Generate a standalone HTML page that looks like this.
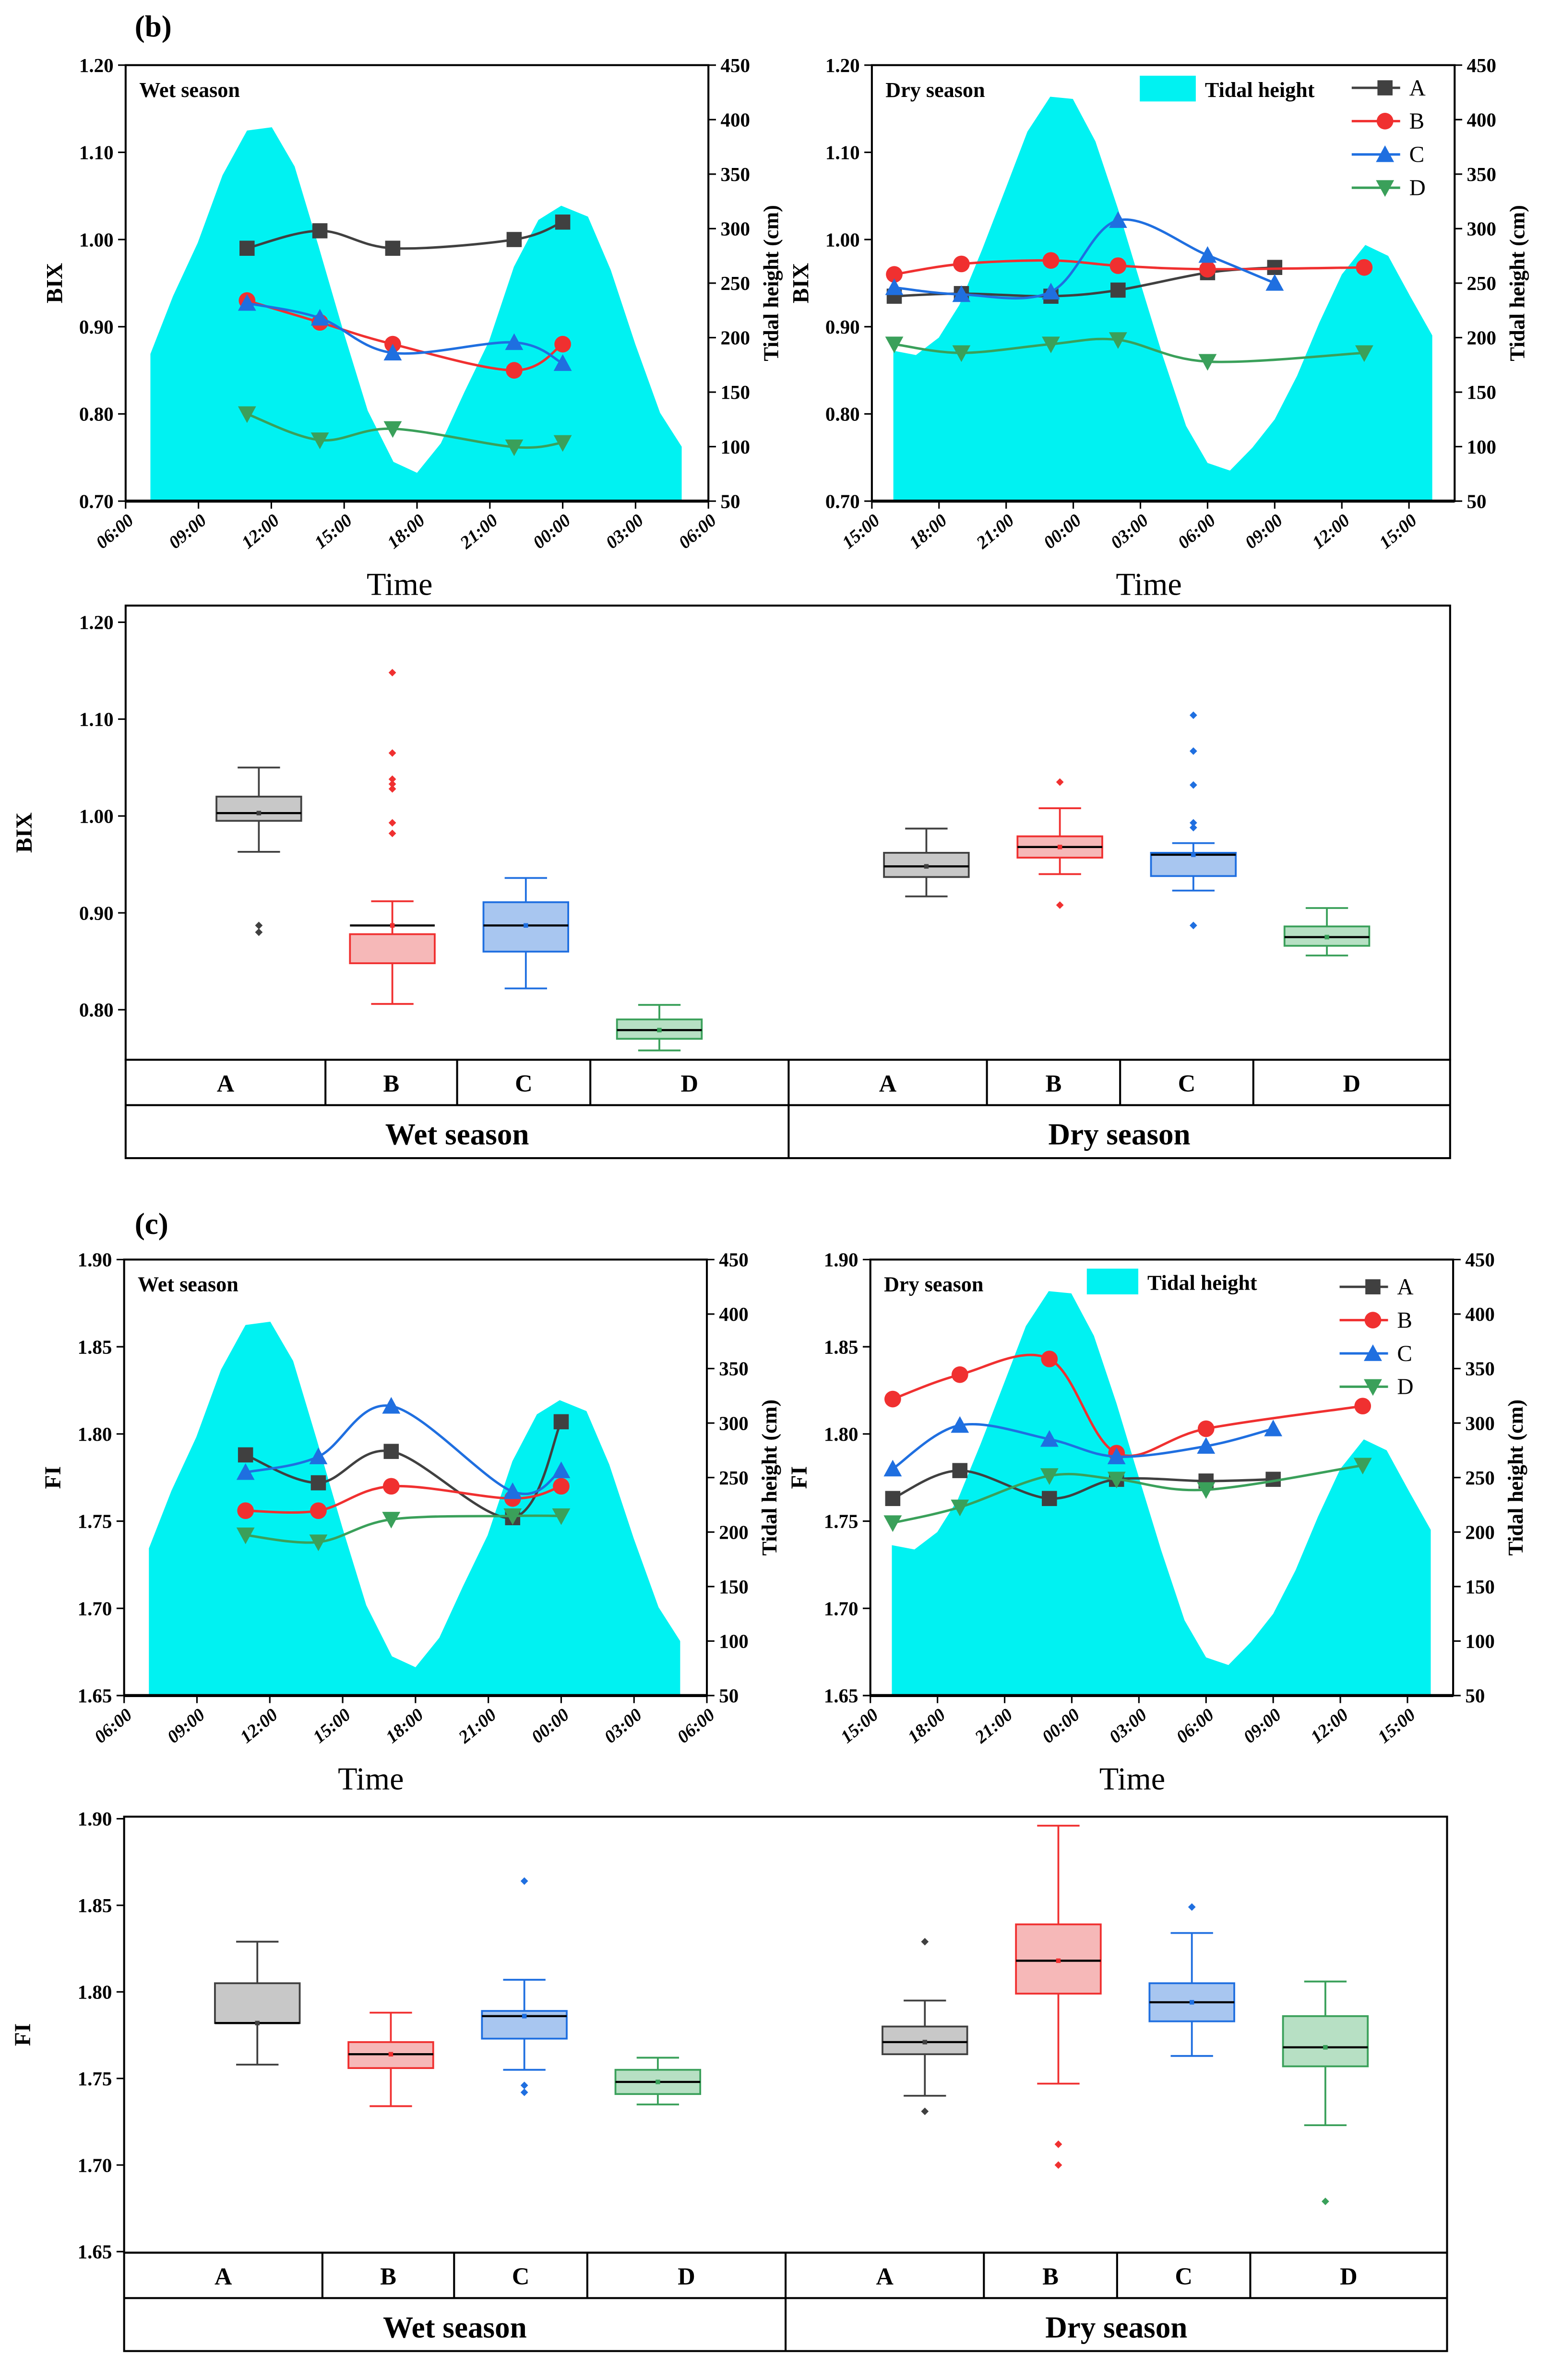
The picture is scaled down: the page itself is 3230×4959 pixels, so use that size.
<!DOCTYPE html>
<html><head><meta charset="utf-8"><style>
html,body{margin:0;padding:0;background:#fff}
svg{display:block}
text{font-family:"Liberation Serif",serif}
</style></head><body>
<svg id="s" width="3230" height="4959" viewBox="0 0 1024 1572.1" xmlns="http://www.w3.org/2000/svg"></svg>
<script>
// ---------- DATA ----------
const tideWetHours=[1.02,1.95,2.97,3.99,5.0,6.02,6.96,7.93,8.99,9.97,11.03,12.0,12.98,13.95,14.97,15.99,17.0,17.94,19.04,19.98,20.99,22.01,22.9];
const tideWetCm=[185,238,287,349,390,393,357,285,204,133,86,76,103,150,197,265,308,321,311,262,194,131,100];
const tideDryHours=[0.96,1.97,2.99,3.91,4.93,6.02,6.95,7.97,8.98,9.99,11.0,12.0,13.0,14.04,15.0,16.0,17.0,18.0,19.0,20.0,21.0,22.05,23.07,24.08,25.04];
const tideDryCm=[188,184,200,230,281,339,389,421,419,380,318,250,183,119,85,78,99,125,165,214,258,285,275,237,202];
const seriesNames=["A","B","C","D"];
const wetHours=[5,8,11,16,18];
const bixWet=[[0.99,1.01,0.99,1.00,1.02],[0.93,0.905,0.88,0.85,0.88],[0.927,0.91,0.87,0.882,0.858],[0.80,0.77,0.783,0.762,0.767]];
const fiWet=[[1.788,1.772,1.790,1.752,1.807],[1.756,1.756,1.770,1.763,1.770],[1.778,1.787,1.816,1.767,1.779],[1.742,1.738,1.751,1.753,1.753]];
const dryHoursA=[1,4,8,11,15,18];
const dryHoursB=[1,4,8,11,15,22];
const bixDry=[[0.935,0.938,0.935,0.942,0.962,0.968],[0.96,0.972,0.976,0.97,0.966,0.968],[0.945,0.937,0.94,1.022,0.982,0.95],[0.88,0.87,0.88,0.885,0.86,0.87]];
const fiDry=[[1.763,1.779,1.763,1.774,1.773,1.774],[1.82,1.834,1.843,1.789,1.803,1.816],[1.780,1.805,1.797,1.787,1.793,1.803],[1.749,1.758,1.776,1.774,1.768,1.782]];
const wetTickLabels=["06:00","09:00","12:00","15:00","18:00","21:00","00:00","03:00","06:00"];
const dryTickLabels=["15:00","18:00","21:00","00:00","03:00","06:00","09:00","12:00","15:00"];
const bixTicks=[0.70,0.80,0.90,1.00,1.10,1.20];
const fiTicks=[1.65,1.70,1.75,1.80,1.85,1.90];
const tideTicks=[50,100,150,200,250,300,350,400,450];
const boxCats=["A","B","C","D","A","B","C","D"];
// box stats: [whiskLo, q1, median, q3, whiskHi]
const bixBoxes=[[0.963,0.995,1.003,1.02,1.05],[0.806,0.848,0.887,0.878,0.912],[0.822,0.86,0.887,0.911,0.936],[0.758,0.77,0.779,0.79,0.805],
 [0.917,0.937,0.948,0.962,0.987],[0.94,0.957,0.968,0.979,1.008],[0.923,0.938,0.96,0.962,0.972],[0.856,0.866,0.875,0.886,0.905]];
const bixOutliers=[[0.887,0.88],[1.148,1.065,1.038,1.033,1.028,0.993,0.982],[],[],[],[1.035,0.908],[1.104,1.067,1.032,0.993,0.988,0.887],[]];
const fiBoxes=[[1.758,1.782,1.782,1.805,1.829],[1.734,1.756,1.764,1.771,1.788],[1.755,1.773,1.786,1.789,1.807],[1.735,1.741,1.748,1.755,1.762],
 [1.740,1.764,1.771,1.780,1.795],[1.747,1.799,1.818,1.839,1.896],[1.763,1.783,1.794,1.805,1.834],[1.723,1.757,1.768,1.786,1.806]];
const fiOutliers=[[],[],[1.864,1.746,1.742],[],[1.829,1.731],[1.712,1.700],[1.849],[1.679]];

// ---------- HELPERS ----------
const S=document.getElementById('s');const NS="http://www.w3.org/2000/svg";
function mk(tag,attrs,parent,txt){const e=document.createElementNS(NS,tag);for(const k in attrs)e.setAttribute(k,attrs[k]);if(txt!==undefined)e.textContent=txt;(parent||S).appendChild(e);return e;}
const colors=["#404040","#f03030","#1f6fe0","#3aa05a"];
const fills=["#c8c8c8","#f6b8b8","#a8c6f0","#b7e0c4"];
function spline(pts){let d="M"+pts[0][0]+","+pts[0][1];for(let i=0;i<pts.length-1;i++){const p0=pts[i-1]||pts[i],p1=pts[i],p2=pts[i+1],p3=pts[i+2]||p2;
 const c1=[p1[0]+(p2[0]-p0[0])/6,p1[1]+(p2[1]-p0[1])/6],c2=[p2[0]-(p3[0]-p1[0])/6,p2[1]-(p3[1]-p1[1])/6];
 d+=" C"+c1[0]+","+c1[1]+" "+c2[0]+","+c2[1]+" "+p2[0]+","+p2[1];}return d;}
function marker(g,k,x,y,c){const r=5;let e;
 if(k==0)e=mk('rect',{x:x-r,y:y-r,width:2*r,height:2*r,fill:c},g);
 else if(k==1)e=mk('circle',{cx:x,cy:y,r:r+0.5,fill:c},g);
 else if(k==2)e=mk('polygon',{points:`${x},${y-r-1} ${x-r-1},${y+r} ${x+r+1},${y+r}`,fill:c},g);
 else e=mk('polygon',{points:`${x},${y+r+1} ${x-r-1},${y-r} ${x+r+1},${y-r}`,fill:c},g);
 return e;}

function timePanel(o){
 const g=mk('g',{},S);
 const {x0,x1,y0,y1}=o;const w=x1-x0,h=y1-y0;
 const xs=t=>x0+t*w/o.span;
 const ys=v=>y1-(v-o.ticks[0])/(o.ticks[o.ticks.length-1]-o.ticks[0])*h;
 const yt=v=>y1-(v-50)/400*h;
 const cid='c'+o.name;const cp=mk('clipPath',{id:cid},g);mk('rect',{x:x0,y:y0,width:w,height:h},cp);
 let d="M"+xs(o.tH[0])+","+y1;o.tH.forEach((t,i)=>d+=" L"+xs(t)+","+yt(o.tC[i]));d+=" L"+xs(o.tH[o.tH.length-1])+","+y1+"Z";
 const a=mk('path',{d:d,fill:"#00f2f2",'clip-path':`url(#${cid})`},g);
 o.series.forEach((vals,k)=>{const hrs=o.hours[k];const pts=vals.map((v,i)=>[xs(hrs[i]),ys(v)]);
  const p=mk('path',{d:spline(pts),fill:"none",stroke:colors[k],'stroke-width':1.6,'clip-path':`url(#${cid})`},g);
  
  pts.forEach(q=>marker(g,k,q[0],q[1],colors[k]));});
 mk('rect',{x:x0,y:y0,width:w,height:h,fill:"none",stroke:"#000",'stroke-width':1.3},g);
 mk('line',{x1:x0,x2:x1,y1:y1,y2:y1,stroke:"#000",'stroke-width':2},g);
 o.ticks.forEach(v=>{const y=ys(v);mk('line',{x1:x0-5,x2:x0,y1:y,y2:y,stroke:"#000"},g);
  const t=mk('text',{x:x0-8,y:y+4.5,'text-anchor':'end','font-size':13,'font-weight':'bold'},g,v.toFixed(2));});
 tideTicks.forEach(v=>{const y=yt(v);mk('line',{x1:x1,x2:x1+5,y1:y,y2:y,stroke:"#000"},g);
  const t=mk('text',{x:x1+8,y:y+4.5,'font-size':13,'font-weight':'bold'},g,String(v));});
 o.xl.forEach((l,i)=>{const x=xs(i*3);mk('line',{x1:x,x2:x,y1:y1,y2:y1+5,stroke:"#000"},g);
  const t=mk('text',{x:x+6,y:y1+14,'text-anchor':'end','font-size':12,'font-weight':'bold','font-style':'italic',transform:`rotate(-40 ${x+6} ${y1+14})`},g,l);});
 let t=mk('text',{x:o.titleX,y:y1+62,'text-anchor':'middle','font-size':21},g,'Time');
 t=mk('text',{x:0,y:0,'text-anchor':'middle','font-size':15,'font-weight':'bold',transform:`translate(${x0-42},${y0+h/2}) rotate(-90)`},g,o.yTitle);
 t=mk('text',{x:0,y:0,'text-anchor':'middle','font-size':14,'font-weight':'bold',transform:`translate(${x1+46},${y0+h/2}) rotate(-90)`},g,'Tidal height (cm)');
 t=mk('text',{x:x0+9,y:y0+21,'font-size':14,'font-weight':'bold'},g,o.season);
 if(o.legend){const L=o.legend;const lg=mk('g',{},g);
  mk('rect',{x:L.tx,y:L.ty,width:L.tw,height:17,fill:"#00f2f2"},lg);
  mk('text',{x:L.tx+L.tw+6,y:L.ty+14,'font-size':14,'font-weight':'bold'},lg,'Tidal height');
  seriesNames.forEach((n,k)=>{const y=L.sy+k*22;mk('line',{x1:L.sx,x2:L.sx+32,y1:y,y2:y,stroke:colors[k],'stroke-width':1.6},lg);marker(lg,k,L.sx+22,y,colors[k]);
   mk('text',{x:L.sx+38,y:y+5,'font-size':15},lg,n);});}
}
function boxPanel(o){
 const g=mk('g',{},S);
 const {x0,x1,y0,y1,vmin,vmax}=o;const ys=v=>y1-(v-vmin)/(vmax-vmin)*(y1-y0);
 mk('rect',{x:x0,y:y0,width:x1-x0,height:y1-y0,fill:"none",stroke:"#000",'stroke-width':1.3},g);
 o.ticks.forEach(v=>{const y=ys(v);mk('line',{x1:x0-5,x2:x0,y1:y,y2:y,stroke:"#000"},g);
  const t=mk('text',{x:x0-8,y:y+4.5,'text-anchor':'end','font-size':13,'font-weight':'bold'},g,v.toFixed(2));});
 let t=mk('text',{x:0,y:0,'text-anchor':'middle','font-size':15,'font-weight':'bold',transform:`translate(${x0-62},${(y0+y1)/2}) rotate(-90)`},g,o.yTitle);
 const cols=o.cols;
 o.boxes.forEach((b,i)=>{const k=i%4;const cx=o.bx0+(i<4?i:i+1)*o.bstep;const c=colors[k];const bg=mk('g',{},g);
  
  mk('line',{x1:cx,x2:cx,y1:ys(b[0]),y2:ys(b[4]),stroke:c,'stroke-width':1.2},bg);
  [b[0],b[4]].forEach(v=>mk('line',{x1:cx-14,x2:cx+14,y1:ys(v),y2:ys(v),stroke:c,'stroke-width':1.2},bg));
  const q1=Math.min(b[1],b[3]),q3=Math.max(b[1],b[3]);
  mk('rect',{x:cx-28,y:ys(q3),width:56,height:ys(q1)-ys(q3),fill:fills[k],stroke:c,'stroke-width':1.2},bg);
  mk('line',{x1:cx-28,x2:cx+28,y1:ys(b[2]),y2:ys(b[2]),stroke:"#000",'stroke-width':1.4},bg);
  mk('rect',{x:cx-1.5,y:ys(b[2])-1.5,width:3,height:3,fill:c},bg);
  o.outs[i].forEach(v=>{const y=ys(v);const p=mk('polygon',{points:`${cx},${y-2.5} ${cx+2.5},${y} ${cx},${y+2.5} ${cx-2.5},${y}`,fill:c},bg);});});
 const r1=o.y1+30,r2=o.y1+65;
 mk('rect',{x:x0,y:y1,width:x1-x0,height:r2-y1,fill:"none",stroke:"#000",'stroke-width':1.3},g);
 mk('line',{x1:x0,x2:x1,y1:r1,y2:r1,stroke:"#000",'stroke-width':1.3},g);
 cols.slice(1,-1).forEach((x,i)=>mk('line',{x1:x,x2:x,y1:y1,y2:i==3?r2:r1,stroke:"#000",'stroke-width':1.3},g));
 boxCats.forEach((c,i)=>{const t=mk('text',{x:(cols[i]+cols[i+1])/2,y:y1+21,'text-anchor':'middle','font-size':16,'font-weight':'bold'},g,c);});
 ["Wet season","Dry season"].forEach((s,i)=>{const t=mk('text',{x:(cols[i*4]+cols[i*4+4])/2,y:r1+26,'text-anchor':'middle','font-size':20,'font-weight':'bold'},g,s);});
}
// ---------- BUILD ----------
const wetH=[wetHours,wetHours,wetHours,wetHours];
const dryH=[dryHoursA,dryHoursB,dryHoursA,dryHoursB];
let t=mk('text',{x:89,y:24,'font-size':20,'font-weight':'bold'},S,'(b)');
t=mk('text',{x:89,y:815,'font-size':20,'font-weight':'bold'},S,'(c)');
timePanel({name:'bix-wet-panel',x0:83,x1:468,y0:43,y1:331,span:24,titleX:264,ticks:bixTicks,tH:tideWetHours,tC:tideWetCm,series:bixWet,hours:wetH,xl:wetTickLabels,yTitle:'BIX',season:'Wet season'});
timePanel({name:'bix-dry-panel',x0:576,x1:961,y0:43,y1:331,span:26.04,titleX:759,ticks:bixTicks,tH:tideDryHours,tC:tideDryCm,series:bixDry,hours:dryH,xl:dryTickLabels,yTitle:'BIX',season:'Dry season',legend:{tx:753,ty:50,tw:37,sx:893,sy:58}});
boxPanel({name:'bix-box-panel',x0:83,x1:958,y0:400,y1:700,vmin:0.7484,vmax:1.2172,ticks:[0.80,0.90,1.00,1.10,1.20],boxes:bixBoxes,outs:bixOutliers,bx0:171,bstep:88.2,cols:[83,215,302,390,521,652,740,828,958],yTitle:'BIX'});
timePanel({name:'fi-wet-panel',x0:82,x1:467,y0:832,y1:1120,span:24,titleX:245,ticks:fiTicks,tH:tideWetHours,tC:tideWetCm,series:fiWet,hours:wetH,xl:wetTickLabels,yTitle:'FI',season:'Wet season'});
timePanel({name:'fi-dry-panel',x0:575,x1:960,y0:832,y1:1120,span:26.04,titleX:748,ticks:fiTicks,tH:tideDryHours,tC:tideDryCm,series:fiDry,hours:dryH,xl:dryTickLabels,yTitle:'FI',season:'Dry season',legend:{tx:718,ty:838,tw:34,sx:885,sy:850}});
boxPanel({name:'fi-box-panel',x0:82,x1:956,y0:1200,y1:1488,vmin:1.6494,vmax:1.9012,ticks:fiTicks,boxes:fiBoxes,outs:fiOutliers,bx0:170,bstep:88.2,cols:[82,213,300,388,519,650,738,826,956],yTitle:'FI'});
</script>
</body></html>
